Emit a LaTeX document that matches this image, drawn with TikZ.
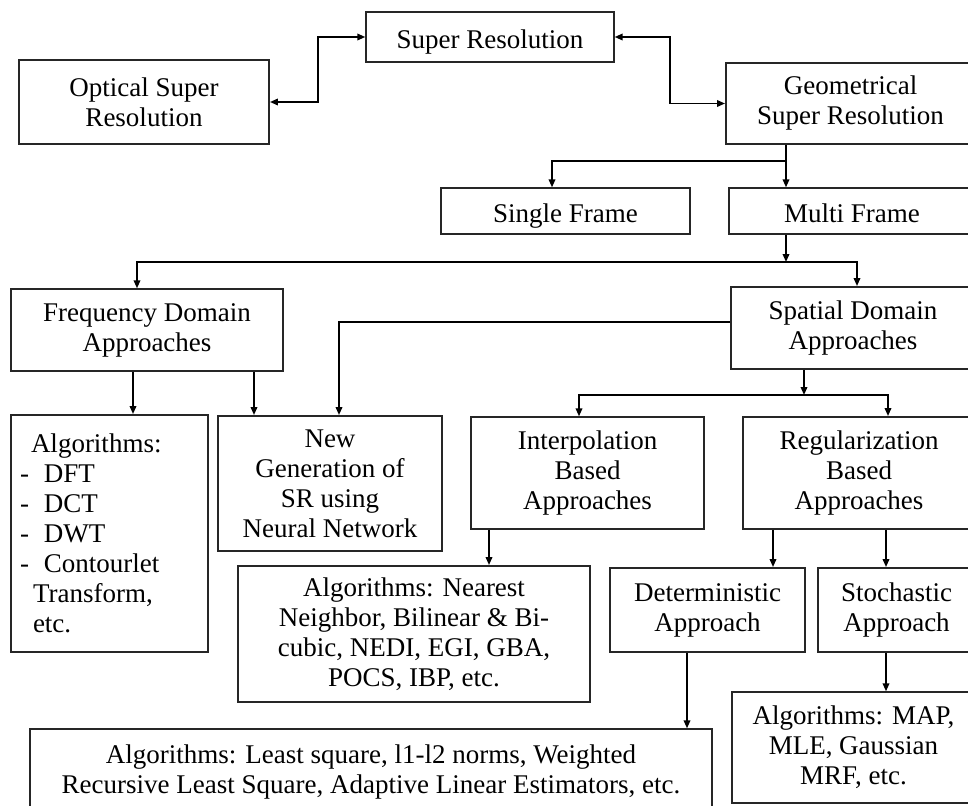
\documentclass[tikz,border=0pt]{standalone}
\usepackage{fontspec}
\setmainfont{Liberation Serif}
\usepackage{tikz}
\usetikzlibrary{arrows.meta,calc}
\usetikzlibrary{positioning}

\begin{document}
\begin{tikzpicture}[x=1pt,y=-1pt,
  font=\fontsize{27}{30}\selectfont,
  box/.style={draw=black!85,line width=1.3pt,align=center,inner sep=2pt},
  boxthick/.style={box,line width=1.9pt},
  oneline/.style={text height=23pt,text depth=0pt},
  arr/.style={-{Triangle[length=8pt,width=6.5pt]},line width=1.8pt},
  dbl/.style={{Triangle[length=8pt,width=6.5pt]}-{Triangle[length=8pt,width=6.5pt]},line width=1.8pt}]

\useasboundingbox (0,0) rectangle (968,805);

% topo
\node[box,oneline,minimum width=248,minimum height=50] (sr) at (490,37) {Super Resolution};
\node[boxthick,minimum width=250,minimum height=84] (optical) at (144,102) {Optical Super\\Resolution};
\node[boxthick,minimum width=249,minimum height=81] (geo) at (850.5,103.5) {Geometrical\\Super Resolution};

\draw[dbl] (optical.east) -| ($(optical.east)!.5!(sr.west)$) |- (sr.west);
\draw[dbl] (sr.east) -| ($(sr.east)!.5!(geo.west)$) |- (geo.west);

% quadros
\node[box,oneline,minimum width=249,minimum height=46] (single) at (565.5,211) {Single Frame};
\node[box,oneline,minimum width=246,minimum height=46] (multi) at (852,211) {Multi Frame};

\coordinate (jg) at (786,161);
\draw[arr] ([xshift=-66pt]multi.north |- geo.south) -- ([xshift=-66pt]multi.north);
\draw[arr] (jg) -| ([xshift=-13.5pt]single.north);

% dominios
\node[box,minimum width=272,minimum height=82] (freq) at (147,330) {Frequency Domain\\Approaches};
\node[boxthick,minimum width=244,minimum height=82] (spatial) at (853,328) {Spatial Domain\\Approaches};

\coordinate (jm) at (786,262);
\draw[arr] ([xshift=-66pt]multi.south) -- (jm);
\draw[arr] (jm) -| ([xshift=-10pt]freq.north);
\draw[arr] (jm) -| ([xshift=4pt]spatial.north);

% terceiro nivel
\node[boxthick,minimum width=197,minimum height=237,text width=179,align=left,inner xsep=9pt] (algF) at (109.5,533.5)
  {\hspace*{11pt}Algorithms:\\-\hspace*{15pt}DFT\\-\hspace*{15pt}DCT\\-\hspace*{15pt}DWT\\-\hspace*{15pt}Contourlet\\\hspace*{13pt}Transform,\\\hspace*{13pt}etc.};
\node[boxthick,minimum width=224,minimum height=135] (newgen) at (330,483.5) {New\\Generation of\\SR using\\Neural Network};
\node[box,minimum width=233,minimum height=112] (interp) at (587.5,473) {Interpolation\\Based\\Approaches};
\node[boxthick,minimum width=232,minimum height=112] (regul) at (859,473) {Regularization\\Based\\Approaches};

\draw[arr] ([xshift=23.5pt]algF.north |- freq.south) -- ([xshift=23.5pt]algF.north);
\draw[arr] ([xshift=-76pt]newgen.north |- freq.south) -- ([xshift=-76pt]newgen.north);
\draw[arr] ([yshift=6pt]spatial.west) -| ([xshift=9pt]newgen.north);

\coordinate (js) at (804,395);
\draw[arr] ([xshift=-49pt]spatial.south) -- (js);
\draw[arr] (js) -| ([xshift=-8.5pt]interp.north);
\draw[arr] (js) -| ([xshift=29pt]regul.north);

% algoritmos
\node[boxthick,minimum width=352,minimum height=136] (nnalg) at (414,634)
  {Algorithms: Nearest\\Neighbor, Bilinear \& Bi-\\cubic, NEDI, EGI, GBA,\\POCS, IBP, etc.};
\node[boxthick,minimum width=195,minimum height=84] (determ) at (707.5,610) {Deterministic\\Approach};
\node[boxthick,minimum width=157,minimum height=84] (stoch) at (896.5,610) {Stochastic\\Approach};

\draw[arr] ([xshift=75pt]nnalg.north |- interp.south) -- ([xshift=75pt]nnalg.north);
\draw[arr] ([xshift=65.5pt]determ.north |- regul.south) -- ([xshift=65.5pt]determ.north);
\draw[arr] ([xshift=-10.5pt]stoch.north |- regul.south) -- ([xshift=-10.5pt]stoch.north);

\node[box,minimum width=682,minimum height=86] (lsalg) at (371,772)
  {Algorithms: Least square, l1-l2 norms, Weighted\\Recursive Least Square, Adaptive Linear Estimators, etc.};
\node[box,minimum width=243,minimum height=111] (mapalg) at (853.5,747.5) {Algorithms: MAP,\\MLE, Gaussian\\MRF, etc.};

\draw[arr] ([xshift=316pt]lsalg.north |- determ.south) -- ([xshift=316pt]lsalg.north);
\draw[arr] ([xshift=32.5pt]mapalg.north |- stoch.south) -- ([xshift=32.5pt]mapalg.north);

\end{tikzpicture}
\end{document}
